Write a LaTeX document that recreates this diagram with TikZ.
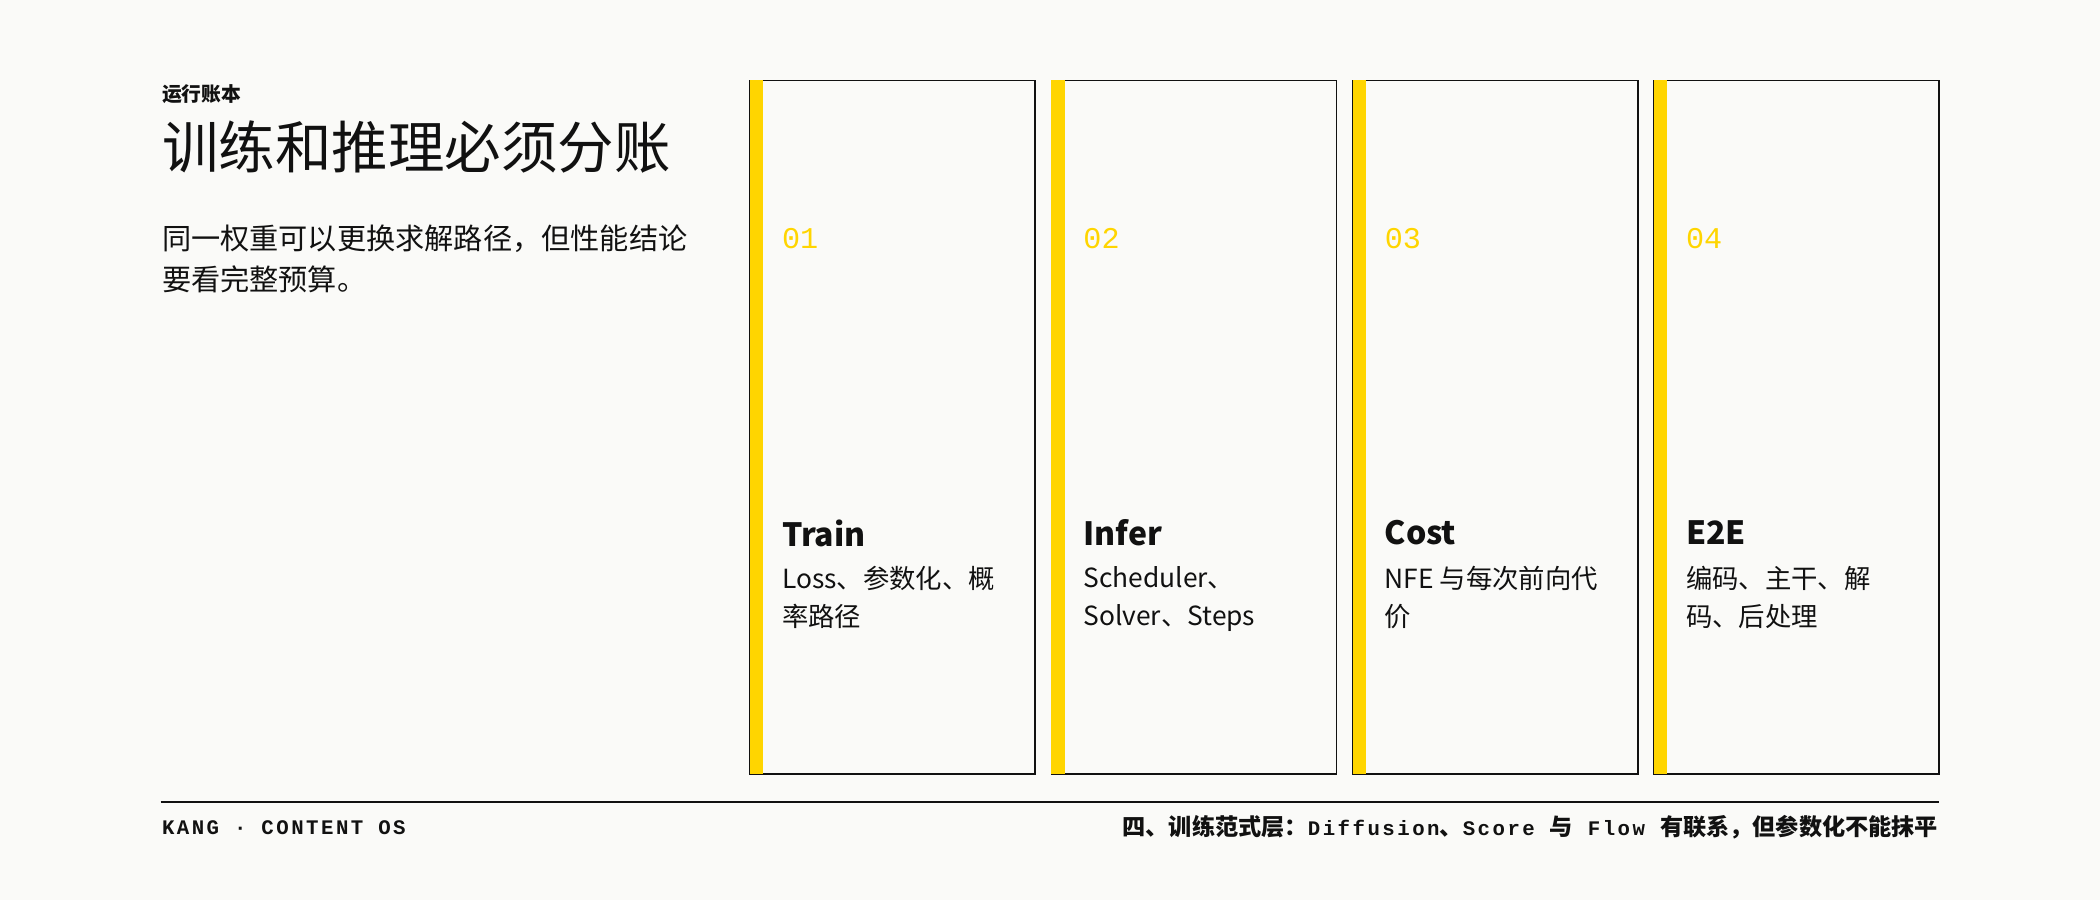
\documentclass[tikz,border=0pt]{standalone}
\usepackage{fontspec}
\setmainfont{Noto Sans CJK SC}
\newfontfamily\monofont{Liberation Mono}
\newfontfamily\footmono{Liberation Mono}[LetterSpace=12]
\newfontfamily\cjk{Noto Sans CJK SC}
\usetikzlibrary{positioning}
\definecolor{paper}{HTML}{FAFAF8}
\definecolor{accent}{HTML}{FFD500}
\definecolor{ink}{HTML}{111111}

\tikzset{
  card/.style={draw=ink, line width=0.9pt, fill=paper},
  bar/.style={fill=accent, draw=none},
  cardnum/.style={anchor=west, text=accent, font=\monofont\fontsize{16}{16}\selectfont},
  cardtitle/.style={anchor=west, text=ink, font=\bfseries\fontsize{17}{17}\selectfont},
  carddesc/.style={anchor=north west, text=ink, align=left, font=\fontsize{14}{20}\selectfont},
  foot/.style={text=ink, font=\footmono\bfseries\fontsize{11}{11}\selectfont}
}
\newcommand{\fc}[1]{{\cjk\bfseries\fontsize{12.3}{12}\selectfont #1}}

\begin{document}
\begin{tikzpicture}[x=0.025cm, y=-0.025cm]
        \fill[paper] (0,0) rectangle (1568,672);
        \useasboundingbox (0,0) rectangle (1568,672);

        % heading block
        \node[anchor=west, text=ink, font=\bfseries\fontsize{10.5}{10}\selectfont] (kicker) at (116,70) {运行账本};
        \node[anchor=west, text=ink, font=\fontsize{30}{30}\selectfont] (title) at (116,110) {训练和推理必须分账};
        \node[anchor=north west, text=ink, align=left, font=\fontsize{15.5}{21.5}\selectfont] (lede) at (116,163)
            {同一权重可以更换求解路径，但性能结论\\要看完整预算。};

        % cards
        \foreach \i/\x/\num/\name/\desc in {
            1/560/01/Train/{Loss、参数化、概\\率路径},
            2/785/02/Infer/{Scheduler、\\Solver、Steps},
            3/1010/03/Cost/{NFE 与每次前向代\\价},
            4/1235/04/E2E/{编码、主干、解\\码、后处理}} {
          \draw[card] (\x,60) rectangle ++(213,518);
          \fill[bar] (\x,60) rectangle ++(10,518);
          \node[cardnum] (num\i) at (\x+19,178) {\num};
          \node[cardtitle] (name\i) at (\x+19,398) {\name};
          \node[carddesc] (desc\i) at (\x+19,418) {\desc};
        }

        % footer
        \coordinate (ruleL) at (120,599);
        \coordinate (ruleR) at (1448,599);
        \draw[ink, line width=0.9pt] (ruleL) -- (ruleR);
        \node[foot, anchor=west] (brand) at (116,618) {KANG · CONTENT OS};
        \node[foot, anchor=east] (section) at (1452,618)
            {\fc{四、训练范式层：}Diffusion\fc{、}Score \fc{与} Flow \fc{有联系，但参数化不能抹平}};
    \end{tikzpicture}
\end{document}
